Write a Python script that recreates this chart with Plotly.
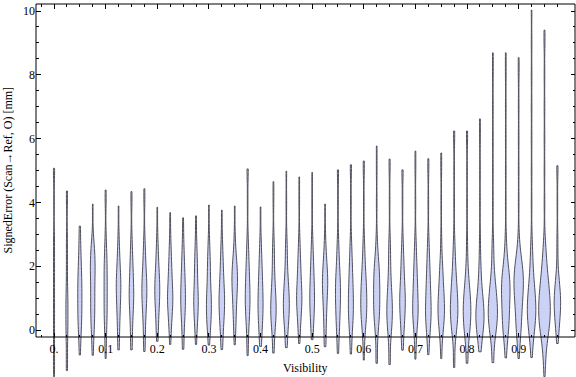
import numpy as np
import plotly.graph_objects as go

# ---------------- data ----------------
VISIBILITY = [0.0, 0.025, 0.05, 0.075, 0.1, 0.125, 0.15, 0.175, 0.2, 0.225,
              0.25, 0.275, 0.3, 0.325, 0.35, 0.375, 0.4, 0.425, 0.45, 0.475,
              0.5, 0.525, 0.55, 0.575, 0.6, 0.625, 0.65, 0.675, 0.7, 0.725,
              0.75, 0.775, 0.8, 0.825, 0.85, 0.875, 0.9, 0.925, 0.95, 0.975]

# smallest / largest signed error of each violin [mm]
ERR_MIN = [-1.46, -1.27, -0.78, -0.79, -0.89, -0.62, -0.62, -0.67, -0.35, -0.45,
           -0.60, -0.45, -0.47, -0.61, -0.46, -0.80, -0.51, -0.72, -0.55, -0.42,
           -0.30, -0.52, -0.73, -0.75, -0.94, -1.04, -1.08, -0.63, -0.91, -0.77,
           -0.89, -1.17, -1.04, -0.68, -1.02, -0.87, -0.89, -0.86, -1.46, -0.42]
ERR_MAX = [5.07, 4.36, 3.26, 3.95, 4.39, 3.89, 4.34, 4.43, 3.85, 3.68,
           3.52, 3.58, 3.92, 3.76, 3.89, 5.05, 3.86, 4.65, 4.98, 4.80,
           4.94, 3.95, 5.02, 5.18, 5.30, 5.77, 5.36, 5.02, 5.61, 5.37,
           5.55, 6.24, 6.24, 6.62, 8.69, 8.69, 8.54, 10.03, 9.40, 5.15]

# signed-error values at which the sample counts below are read
ERR_GRID = [-1.0, -0.5, 0.0, 0.5, 1.0, 1.5, 2.0, 2.5, 3.0, 4.0, 5.0, 6.0, 7.0, 8.0, 9.0]

# number of samples at each ERR_GRID value, one row per violin
GRID_COUNTS = [
    [1, 1, 1, 1, 1, 1, 1, 1, 1, 1, 1, 0, 0, 0, 0],
    [1, 1, 2, 2, 2, 1, 1, 1, 1, 1, 0, 0, 0, 0, 0],
    [0, 1, 3, 4, 4, 4, 3, 2, 1, 0, 0, 0, 0, 0, 0],
    [0, 1, 3, 4, 4, 4, 5, 4, 1, 0, 0, 0, 0, 0, 0],
    [0, 1, 2, 3, 3, 3, 3, 2, 1, 1, 0, 0, 0, 0, 0],
    [0, 1, 2, 3, 4, 5, 3, 2, 1, 0, 0, 0, 0, 0, 0],
    [0, 1, 2, 3, 5, 4, 3, 2, 1, 1, 0, 0, 0, 0, 0],
    [0, 1, 2, 3, 5, 5, 3, 2, 1, 1, 0, 0, 0, 0, 0],
    [0, 0, 2, 3, 5, 5, 3, 2, 1, 0, 0, 0, 0, 0, 0],
    [0, 0, 2, 4, 6, 4, 3, 2, 1, 0, 0, 0, 0, 0, 0],
    [0, 1, 2, 4, 5, 4, 3, 2, 1, 0, 0, 0, 0, 0, 0],
    [0, 0, 2, 4, 5, 3, 3, 2, 1, 0, 0, 0, 0, 0, 0],
    [0, 0, 3, 5, 5, 3, 3, 2, 1, 0, 0, 0, 0, 0, 0],
    [0, 1, 3, 5, 6, 4, 3, 2, 1, 0, 0, 0, 0, 0, 0],
    [0, 0, 2, 3, 4, 6, 5, 2, 1, 0, 0, 0, 0, 0, 0],
    [0, 1, 2, 4, 5, 4, 3, 2, 1, 1, 1, 0, 0, 0, 0],
    [0, 1, 3, 5, 5, 4, 3, 2, 1, 0, 0, 0, 0, 0, 0],
    [0, 1, 3, 6, 5, 3, 2, 2, 1, 1, 0, 0, 0, 0, 0],
    [0, 1, 3, 6, 6, 4, 2, 2, 1, 1, 0, 0, 0, 0, 0],
    [0, 0, 2, 4, 6, 4, 3, 2, 1, 1, 0, 0, 0, 0, 0],
    [0, 0, 2, 4, 5, 4, 3, 2, 1, 1, 0, 0, 0, 0, 0],
    [0, 1, 2, 3, 4, 6, 4, 2, 1, 0, 0, 0, 0, 0, 0],
    [0, 1, 3, 4, 5, 5, 3, 2, 1, 1, 1, 0, 0, 0, 0],
    [0, 1, 3, 5, 5, 4, 3, 2, 1, 1, 1, 0, 0, 0, 0],
    [0, 1, 3, 6, 6, 5, 3, 2, 1, 1, 1, 0, 0, 0, 0],
    [1, 1, 3, 6, 6, 6, 5, 2, 1, 1, 1, 0, 0, 0, 0],
    [1, 1, 4, 6, 5, 3, 2, 2, 1, 1, 1, 0, 0, 0, 0],
    [0, 1, 3, 5, 6, 4, 3, 2, 1, 1, 1, 0, 0, 0, 0],
    [0, 1, 3, 6, 5, 4, 3, 2, 1, 1, 1, 0, 0, 0, 0],
    [0, 1, 4, 6, 5, 4, 3, 2, 1, 1, 1, 0, 0, 0, 0],
    [0, 1, 4, 7, 6, 4, 3, 1, 1, 1, 1, 0, 0, 0, 0],
    [1, 1, 5, 8, 7, 5, 3, 2, 1, 1, 1, 1, 0, 0, 0],
    [1, 2, 6, 8, 7, 4, 2, 1, 1, 1, 1, 1, 0, 0, 0],
    [0, 2, 7, 9, 6, 3, 2, 1, 1, 1, 1, 1, 0, 0, 0],
    [1, 2, 7, 10, 8, 5, 2, 2, 1, 1, 1, 1, 1, 1, 0],
    [0, 2, 6, 7, 8, 9, 5, 2, 1, 1, 1, 1, 1, 1, 0],
    [0, 2, 5, 6, 8, 10, 8, 3, 1, 1, 1, 1, 1, 1, 0],
    [0, 2, 6, 9, 8, 5, 3, 2, 1, 1, 1, 1, 1, 1, 1],
    [2, 4, 9, 12, 11, 8, 5, 3, 1, 1, 1, 1, 1, 1, 1],
    [0, 0, 3, 6, 7, 4, 1, 1, 1, 1, 1, 0, 0, 0, 0],
]

X_TICKS = [0.0, 0.1, 0.2, 0.3, 0.4, 0.5, 0.6, 0.7, 0.8, 0.9]
X_TICK_TEXT = ["0.", "0.1", "0.2", "0.3", "0.4", "0.5", "0.6", "0.7", "0.8", "0.9"]
Y_TICKS = [0, 2, 4, 6, 8, 10]
Y_TICK_TEXT = ["0", "2", "4", "6", "8", "10"]

# ---------------- styling ----------------
FONT = "Liberation Serif"
FILL = "rgb(204,210,245)"
EDGE = "rgb(80,80,92)"
BW = 0.35            # kernel bandwidth
WMAX = 0.0225        # width of the widest violin (x units)
X_RANGE = [-0.0349, 1.0091]
Y_RANGE = [-1.47, 10.22]
FRAME_BOTTOM = 0.1072  # paper fraction of the frame's lower edge

# expand the counts into samples
samples = []
peaks = []
for lo, hi, cnts in zip(ERR_MIN, ERR_MAX, GRID_COUNTS):
    vals = [lo]
    for g, c in zip(ERR_GRID, cnts):
        if lo < g < hi:
            vals += [g] * c
    vals.append(hi)
    s = np.array(vals, dtype=float)
    t = np.linspace(lo, hi, 500)
    raw = np.exp(-0.5 * ((t[:, None] - s[None, :]) / BW) ** 2).sum(axis=1)
    samples.append(vals)
    peaks.append(raw.max())
pmax = max(peaks)

fig = go.Figure()
for pos, vals, pk in zip(VISIBILITY, samples, peaks):
    fig.add_trace(go.Violin(
        x=[pos] * len(vals), y=vals,
        width=WMAX * pk / pmax,
        bandwidth=BW, spanmode="hard", side="both",
        points=False, fillcolor=FILL,
        line=dict(color=EDGE, width=1),
        showlegend=False, hoverinfo="skip",
    ))

# dummy trace so that the top frame axis is drawn
fig.add_trace(go.Scatter(x=[None], y=[None], xaxis="x2", yaxis="y",
                         showlegend=False, hoverinfo="skip", mode="markers"))

x_minor = [round(k * 0.025, 3) for k in range(-1, 41) if k % 4 != 0]
y_minor = [k * 0.5 for k in range(0, 21) if k % 4 != 0]

fig.update_layout(
    width=576, height=377,
    margin=dict(l=36, r=1, t=4, b=0, autoexpand=False),
    paper_bgcolor="white", plot_bgcolor="white",
    violinmode="overlay",
    hovermode=False,
    font=dict(family=FONT, size=12, color="black"),
    xaxis=dict(range=X_RANGE, anchor="free", position=FRAME_BOTTOM,
               automargin=False,
               showline=False, showgrid=False, zeroline=False,
               tickmode="array", tickvals=X_TICKS, ticktext=X_TICK_TEXT,
               ticks="inside", ticklen=4.5, tickwidth=1, tickcolor="black",
               ticklabelstandoff=3,
               minor=dict(tickmode="array", tickvals=x_minor, ticks="inside",
                          ticklen=2.5, tickwidth=1, tickcolor="black", showgrid=False),
               tickfont=dict(family=FONT, size=12, color="black")),
    xaxis2=dict(range=X_RANGE, overlaying="x", side="top", anchor="y",
                automargin=False,
                showline=False, showgrid=False, zeroline=False,
                showticklabels=False,
                tickmode="array", tickvals=X_TICKS,
                ticks="inside", ticklen=4.5, tickwidth=1, tickcolor="black",
                minor=dict(tickmode="array", tickvals=x_minor, ticks="inside",
                           ticklen=2.5, tickwidth=1, tickcolor="black", showgrid=False)),
    yaxis=dict(range=Y_RANGE, automargin=False,
               showline=False, showgrid=False, zeroline=False,
               tickmode="array", tickvals=Y_TICKS, ticktext=Y_TICK_TEXT,
               ticks="inside", ticklen=4.5, tickwidth=1, tickcolor="black",
               mirror="ticks",
               minor=dict(tickmode="array", tickvals=y_minor, ticks="inside",
                          ticklen=2.5, tickwidth=1, tickcolor="black", showgrid=False),
               tickfont=dict(family=FONT, size=12, color="black")),
    shapes=[dict(type="rect", xref="paper", yref="paper",
                 x0=0, x1=1, y0=FRAME_BOTTOM, y1=1,
                 line=dict(color="black", width=1), layer="above")],
    annotations=[
        dict(text="SignedError (Scan\u2192Ref, O) [mm]", textangle=-90,
             xref="paper", yref="paper", x=0, xshift=-28, y=0.5536,
             xanchor="center", yanchor="middle", showarrow=False,
             font=dict(family=FONT, size=12, color="black")),
        dict(text="Visibility", xref="paper", yref="paper", x=0.5, y=0.0241,
             xanchor="center", yanchor="middle", showarrow=False,
             font=dict(family=FONT, size=12, color="black")),
    ],
)

fig.write_html("out.html",
               config={"displayModeBar": False, "staticPlot": True},
               post_script="document.body.style.margin='0px';"
                           "document.body.style.overflow='hidden';")
